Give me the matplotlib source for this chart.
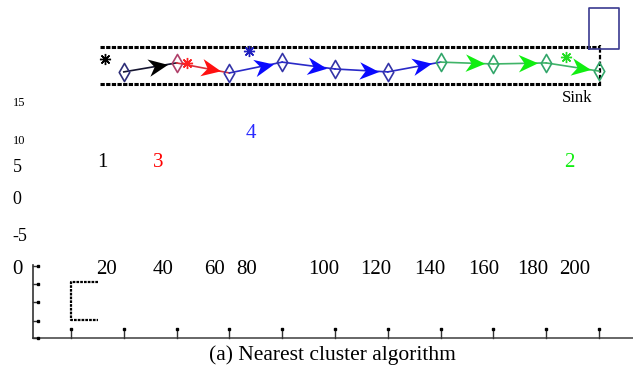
import numpy as np
import matplotlib
matplotlib.use("Agg")
import matplotlib.pyplot as plt
from matplotlib.path import Path
from matplotlib.markers import MarkerStyle
from matplotlib.transforms import Affine2D

plt.rcParams['font.family'] = ['Liberation Serif', 'DejaVu Serif']

# ---------------- data (chart units) ----------------
node_x = [20, 40, 60, 80, 100, 120, 140, 160, 180, 200]
node_y = [100.8, 104.2, 100.4, 104.5, 101.9, 100.8, 104.5, 103.8, 104.2, 101.1]
node_cluster = [1, 3, 4, 4, 4, 4, 2, 2, 2, 2]
edge_cluster = [1, 3, 4, 4, 4, 4, 2, 2, 2]

head_x = [12.9, 43.9, 67.4, 187.5]
head_y = [105.7, 104.2, 108.7, 106.4]
head_cluster = [1, 3, 4, 2]

label_text = ["1", "3", "4", "2"]
label_x = [11.7, 33.0, 68.2, 188.6]
label_y = [66.3, 66.3, 77.3, 66.3]

strip_x = [11.0, 200.4]
strip_y = [96.2, 110.2]

sink_box_x = [196.2, 207.6]
sink_box_y = [109.5, 125.0]

bracket_x = [10.2, 0.0, 0.0, 10.2]
bracket_y = [21.2, 21.2, 6.8, 6.8]

xticks = [0, 20, 40, 60, 80, 100, 120, 140, 160, 180, 200]
xtick_labels = ["0", "20", "40", "60", "80", "100", "120", "140", "160", "180", "200"]
xtick_label_x = [-20.1, 13.6, 34.8, 54.2, 66.7, 95.8, 115.5, 136.0, 156.4, 175.0, 190.9]

ylabels = ["15", "10", "5", "0", "-5"]
ylabel_y = [89.0, 74.6, 64.4, 52.3, 38.3]
ylabel_size = [9, 9, 13, 13, 13]

left_ticks_y = [0.0, 6.4, 13.6, 20.5, 27.3]

# ---------------- styles ----------------
line_col = {1: '#151530', 3: '#d8303c', 4: '#2a2ac8', 2: '#40b468'}
head_col = {1: '#000000', 3: '#ff1010', 4: '#0a0aff', 2: '#11ee11'}
node_col = {1: '#2e2e78', 3: '#b0406a', 4: '#3434a8', 2: '#32a66a'}
star_col = {1: '#000000', 3: '#ff2020', 4: '#2020c0', 2: '#22dd22'}
label_col = {1: '#000000', 3: '#ff0000', 4: '#2a2aff', 2: '#11ee11'}

px_per_unit = 2.64
W, H = 633, 368
fig = plt.figure(figsize=(W / 100, H / 100), dpi=100)
ax = fig.add_axes([0, 0, 1, 1])
ax.set_xlim((0 - 71) / px_per_unit, (W - 71) / px_per_unit)
ax.set_ylim((338 - H) / px_per_unit, (338 - 0) / px_per_unit)
ax.axis('off')

dash = (0, (1.4, 0.45))
# strip (dashed rectangle, open at left)
ax.plot(strip_x, [strip_y[1]] * 2, color='black', lw=2.2, linestyle=dash)
ax.plot(strip_x, [strip_y[0]] * 2, color='black', lw=2.2, linestyle=dash)
ax.plot([strip_x[1]] * 2, [strip_y[0] - 0.6, strip_y[1] + 0.8], color='black', lw=1.6, linestyle=(0, (2, 1)))

# sink box
ax.plot([sink_box_x[0], sink_box_x[1], sink_box_x[1], sink_box_x[0], sink_box_x[0]],
        [sink_box_y[0], sink_box_y[0], sink_box_y[1], sink_box_y[1], sink_box_y[0]],
        color='#3a3a90', lw=1.2)

# arrows between nodes
arrow_path = Path([(1, 0), (-1, 0.9), (-0.4, 0), (-1, -0.9), (1, 0)],
                  [Path.MOVETO, Path.LINETO, Path.LINETO, Path.LINETO, Path.CLOSEPOLY])
for i, c in enumerate(edge_cluster):
    x0, y0 = node_x[i], node_y[i]
    x1, y1 = node_x[i + 1], node_y[i + 1]
    ax.plot([x0, x1], [y0, y1], color=line_col[c], lw=1.2, zorder=2)
    L = np.hypot(x1 - x0, y1 - y0)
    f = 1 - 7.0 / L
    ax_, ay_ = x0 + f * (x1 - x0), y0 + f * (y1 - y0)
    ang = np.degrees(np.arctan2(y1 - y0, x1 - x0))
    m = MarkerStyle(arrow_path, transform=Affine2D().rotate_deg(ang))
    ax.plot([ax_], [ay_], marker=m, markersize=14, color=head_col[c],
            markeredgewidth=0, linestyle='none', zorder=3)

# nodes (diamonds)
diamond = Path([(0, 1), (0.58, 0), (0, -1), (-0.58, 0), (0, 1)],
               [Path.MOVETO, Path.LINETO, Path.LINETO, Path.LINETO, Path.CLOSEPOLY])
for x, y, c in zip(node_x, node_y, node_cluster):
    ax.plot([x], [y], marker=diamond, markersize=13, markerfacecolor='none',
            markeredgecolor=node_col[c], markeredgewidth=1.2, linestyle='none', zorder=4)

# cluster heads (asterisks)
for x, y, c in zip(head_x, head_y, head_cluster):
    ax.plot([x], [y], marker=(8, 2, 0), markersize=8, color=star_col[c],
            markeredgewidth=1.0, linestyle='none', zorder=4)

# cluster labels
for t, x, y in zip(label_text, label_x, label_y):
    c = int(t)
    ax.text(x, y, t, color=label_col[c], fontsize=15, ha='center', va='center')

# Sink label
ax.text(191.7, 90.9, "Sink", fontsize=12, ha='center', va='center', color='black')

# bottom axis
ax.plot([-14.4, (W - 71) / px_per_unit], [0, 0], color='#5a5a5a', lw=1.3, zorder=1)
for t in xticks:
    ax.plot([t, t], [0, 3.4], color='#333333', lw=1.0)
    ax.plot([t], [3.4], marker='s', markersize=2.0, color='black', linestyle='none')

# left axis
ax.plot([-14.4, -14.4], [0, 27.7], color='#333333', lw=1.2)
for yy in left_ticks_y:
    ax.plot([-14.4, -12.5], [yy, yy], color='#333333', lw=1.0)
    ax.plot([-12.5], [yy], marker='s', markersize=2.0, color='black', linestyle='none')

# bracket
ax.plot(bracket_x, bracket_y, color='black', lw=1.6, linestyle=(0, (1.2, 0.5)))

# misplaced tick labels
for lab, x in zip(xtick_labels, xtick_label_x):
    ax.text(x, 26.0, lab, fontsize=15, ha='center', va='center', color='black')
for lab, y, s in zip(ylabels, ylabel_y, ylabel_size):
    ax.text((12.5 - 71) / px_per_unit, y, lab, fontsize=s, ha='left', va='center', color='black')

# caption
ax.text(99.2, -6.4, "(a) Nearest cluster algorithm", fontsize=15.5, ha='center',
        va='center', color='black')

fig.savefig("out.png", dpi=100)
